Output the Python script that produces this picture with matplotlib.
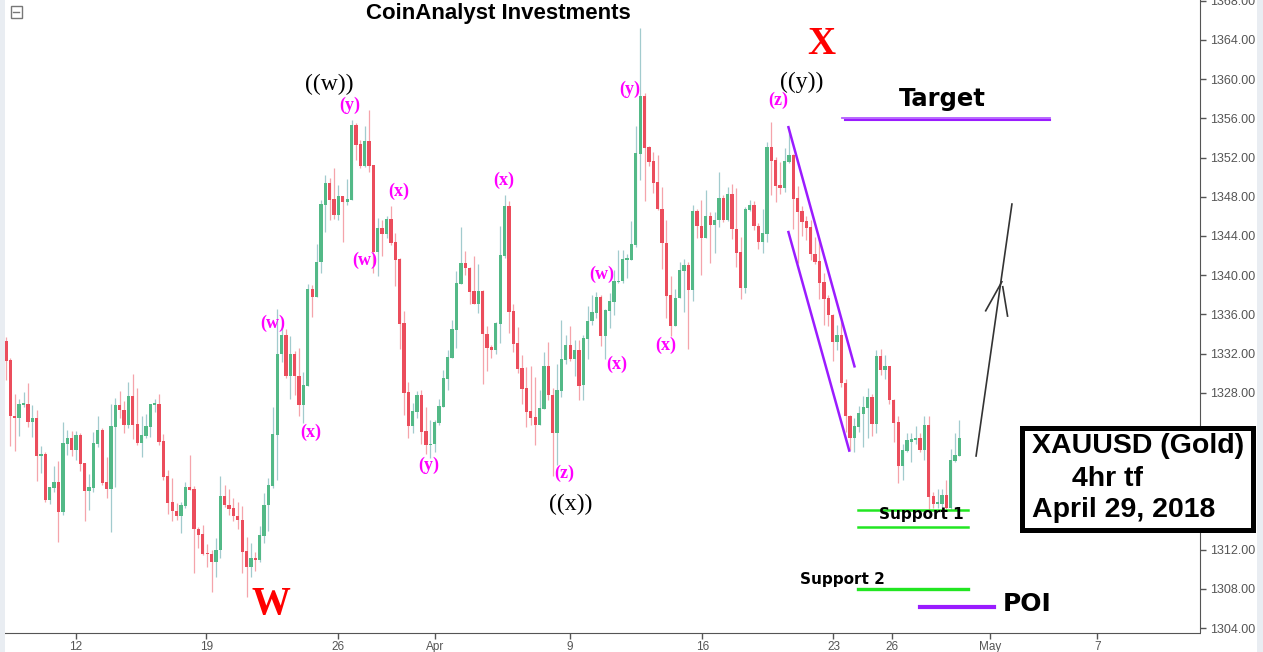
import matplotlib
matplotlib.use('Agg')
import matplotlib.pyplot as plt
from matplotlib.patches import Rectangle
from matplotlib.ticker import FormatStrFormatter
import numpy as np

plt.rcParams['font.family'] = 'Liberation Sans'

# XAUUSD 4h bars, 8 Mar - 27 Apr 2018
opens = [
    1333.3, 1331.3, 1325.6, 1325.4, 1326.8, 1326.9, 1325.0, 1325.4, 1321.6, 1321.8,
    1317.1, 1318.3, 1318.9, 1315.8, 1322.8, 1323.4, 1322.2, 1323.7, 1320.8, 1318.0,
    1318.3, 1322.8, 1324.2, 1318.9, 1318.2, 1324.5, 1326.8, 1326.2, 1324.7, 1327.7,
    1324.8, 1322.9, 1323.6, 1324.5, 1326.8, 1326.9, 1323.1, 1319.5, 1316.9, 1315.9,
    1315.4, 1316.4, 1318.4, 1318.2, 1314.1, 1313.6, 1311.6, 1311.6, 1310.7, 1312.0,
    1317.5, 1316.6, 1316.2, 1315.4, 1315.0, 1311.9, 1310.2, 1311.1, 1310.9, 1313.4,
    1316.5, 1318.5, 1323.7, 1332.0, 1333.9, 1329.7, 1332.0, 1329.7, 1326.8, 1328.7,
    1338.6, 1337.8, 1341.3, 1347.2, 1349.4, 1347.8, 1346.1, 1348.1, 1347.5, 1347.7,
    1355.3, 1353.4, 1351.1, 1353.7, 1351.2, 1342.4, 1344.8, 1344.2, 1345.7, 1343.4,
    1341.7, 1335.1, 1328.1, 1324.6, 1326.0, 1327.8, 1324.1, 1322.7, 1322.8, 1324.9,
    1326.6, 1329.4, 1331.6, 1334.4, 1339.1, 1341.2, 1340.7, 1338.4, 1337.1, 1338.4,
    1334.0, 1332.7, 1332.4, 1335.0, 1342.0, 1347.1, 1336.3, 1333.1, 1330.5, 1328.5,
    1326.1, 1325.5, 1324.7, 1326.3, 1330.7, 1327.8, 1323.9, 1328.2, 1331.3, 1332.9,
    1331.4, 1332.4, 1328.8, 1333.5, 1335.3, 1336.1, 1337.8, 1333.8, 1336.3, 1337.3,
    1339.3, 1339.4, 1341.6, 1341.6, 1343.1, 1352.4, 1358.3, 1353.1, 1351.7, 1349.5,
    1346.8, 1343.3, 1338.0, 1334.8, 1337.7, 1340.4, 1341.0, 1338.5, 1346.6, 1345.0,
    1343.8, 1346.0, 1345.1, 1345.6, 1347.9, 1345.6, 1348.3, 1344.7, 1342.4, 1338.7,
    1346.7, 1347.2, 1345.0, 1343.4, 1344.2, 1353.1, 1351.8, 1349.2, 1348.9, 1351.6,
    1352.3, 1347.9, 1346.5, 1345.5, 1344.9, 1342.2, 1341.4, 1339.3, 1337.7, 1335.9,
    1333.2, 1333.9, 1329.0, 1325.6, 1323.4, 1324.5, 1325.8, 1326.4, 1327.6, 1324.8,
    1331.8, 1330.3, 1330.7, 1327.3, 1325.0, 1320.5, 1322.1, 1323.0, 1323.2, 1323.4,
    1322.2, 1324.7, 1317.5, 1316.7, 1316.7, 1317.6, 1316.2, 1321.0, 1321.6,
]
highs = [
    1333.7, 1331.6, 1327.9, 1327.4, 1328.1, 1329.0, 1326.8, 1326.2, 1322.6, 1322.0,
    1318.4, 1320.5, 1321.0, 1325.0, 1324.2, 1324.1, 1324.1, 1323.9, 1320.8, 1319.7,
    1324.0, 1325.6, 1324.4, 1321.4, 1326.9, 1327.5, 1328.2, 1327.2, 1329.1, 1329.9,
    1328.5, 1325.6, 1325.8, 1326.9, 1327.4, 1327.9, 1323.8, 1320.1, 1319.3, 1316.8,
    1316.9, 1318.9, 1321.7, 1318.5, 1314.3, 1314.5, 1312.6, 1312.0, 1313.2, 1319.5,
    1318.6, 1318.2, 1317.3, 1316.9, 1316.4, 1313.3, 1312.7, 1311.8, 1314.4, 1317.8,
    1319.3, 1326.6, 1336.6, 1334.6, 1334.5, 1333.8, 1332.3, 1332.6, 1330.1, 1339.1,
    1339.0, 1343.2, 1347.7, 1350.2, 1349.9, 1350.9, 1349.2, 1348.1, 1349.8, 1355.8,
    1355.5, 1353.8, 1355.2, 1356.9, 1351.2, 1345.8, 1345.6, 1346.0, 1347.1, 1344.3,
    1341.8, 1336.3, 1329.1, 1327.0, 1328.2, 1328.3, 1326.6, 1325.2, 1325.2, 1327.4,
    1330.3, 1332.4, 1335.4, 1340.4, 1344.9, 1342.5, 1340.8, 1342.0, 1341.1, 1338.5,
    1334.8, 1332.9, 1335.2, 1345.0, 1348.2, 1347.6, 1337.1, 1334.7, 1331.9, 1330.6,
    1330.7, 1329.6, 1328.3, 1332.2, 1333.2, 1328.5, 1330.9, 1335.4, 1333.9, 1334.8,
    1333.4, 1333.4, 1333.9, 1336.9, 1338.0, 1338.3, 1338.0, 1336.6, 1338.2, 1340.5,
    1342.6, 1342.6, 1342.2, 1345.5, 1355.2, 1365.2, 1358.6, 1353.2, 1352.6, 1352.3,
    1349.0, 1345.6, 1339.9, 1338.6, 1341.3, 1341.7, 1341.3, 1347.2, 1346.8, 1347.7,
    1348.7, 1346.4, 1346.4, 1350.5, 1348.2, 1349.0, 1349.3, 1348.9, 1343.9, 1347.0,
    1347.7, 1347.6, 1345.3, 1346.8, 1353.6, 1355.6, 1352.1, 1351.5, 1353.0, 1354.8,
    1352.4, 1349.1, 1347.1, 1346.0, 1345.6, 1343.9, 1343.7, 1340.2, 1338.0, 1336.0,
    1334.9, 1335.4, 1329.4, 1325.7, 1325.4, 1326.7, 1327.7, 1328.5, 1327.9, 1332.4,
    1332.5, 1331.9, 1330.7, 1327.4, 1325.6, 1322.8, 1323.9, 1323.9, 1324.6, 1323.9,
    1325.6, 1325.6, 1317.9, 1318.2, 1318.2, 1319.1, 1322.3, 1323.9, 1325.2,
]
lows = [
    1329.3, 1322.6, 1322.1, 1323.6, 1326.6, 1324.5, 1323.5, 1319.0, 1319.8, 1316.9,
    1316.7, 1317.9, 1312.8, 1315.5, 1321.7, 1321.6, 1321.1, 1320.0, 1314.9, 1316.0,
    1317.9, 1322.5, 1318.6, 1317.3, 1313.8, 1318.4, 1325.4, 1323.9, 1324.4, 1323.3,
    1322.7, 1321.4, 1323.4, 1323.5, 1326.0, 1322.7, 1319.1, 1315.6, 1314.9, 1315.0,
    1313.7, 1316.2, 1318.1, 1309.6, 1312.2, 1311.4, 1310.2, 1307.7, 1309.2, 1311.1,
    1316.3, 1315.5, 1314.9, 1314.1, 1309.6, 1307.2, 1309.2, 1309.8, 1310.7, 1312.7,
    1313.9, 1318.3, 1319.1, 1331.1, 1329.5, 1327.4, 1327.8, 1325.6, 1324.9, 1328.7,
    1335.7, 1337.8, 1340.2, 1344.4, 1345.6, 1345.7, 1345.6, 1343.4, 1347.2, 1347.7,
    1351.8, 1350.9, 1351.0, 1350.5, 1340.2, 1339.9, 1342.0, 1343.8, 1343.1, 1338.9,
    1332.5, 1325.7, 1323.4, 1323.9, 1325.4, 1322.8, 1321.8, 1321.3, 1322.0, 1324.7,
    1326.5, 1328.3, 1331.5, 1332.6, 1339.1, 1340.0, 1337.1, 1337.1, 1336.1, 1328.9,
    1330.2, 1331.5, 1332.0, 1333.1, 1341.8, 1334.1, 1332.2, 1330.0, 1326.9, 1324.5,
    1324.7, 1322.7, 1324.7, 1326.3, 1327.3, 1319.5, 1320.6, 1327.6, 1330.9, 1331.2,
    1329.7, 1327.3, 1327.3, 1331.4, 1334.9, 1335.6, 1332.8, 1331.4, 1334.6, 1335.9,
    1339.2, 1339.2, 1339.7, 1341.6, 1342.9, 1349.7, 1347.6, 1351.1, 1348.4, 1346.7,
    1340.6, 1335.6, 1333.8, 1334.8, 1337.7, 1336.2, 1332.5, 1337.4, 1343.8, 1340.0,
    1343.8, 1341.2, 1342.3, 1344.9, 1345.4, 1345.5, 1343.7, 1340.8, 1337.6, 1338.2,
    1346.5, 1344.6, 1342.7, 1342.3, 1343.4, 1348.2, 1347.5, 1348.3, 1348.5, 1351.4,
    1344.7, 1341.2, 1344.0, 1343.6, 1341.6, 1341.1, 1337.6, 1334.9, 1334.8, 1331.2,
    1332.4, 1328.6, 1324.0, 1322.2, 1322.0, 1324.0, 1322.5, 1323.4, 1323.6, 1323.9,
    1329.8, 1329.4, 1326.9, 1323.0, 1318.8, 1319.1, 1322.0, 1320.9, 1322.8, 1322.0,
    1321.1, 1316.0, 1316.2, 1316.2, 1316.0, 1315.9, 1316.0, 1320.9, 1321.5,
]
closes = [
    1331.2, 1325.6, 1325.4, 1326.9, 1326.9, 1325.0, 1325.4, 1321.6, 1321.8, 1317.1,
    1318.4, 1318.9, 1315.8, 1322.9, 1323.4, 1322.2, 1323.7, 1320.7, 1318.0, 1318.4,
    1322.9, 1324.2, 1318.8, 1318.2, 1324.6, 1326.8, 1326.2, 1324.7, 1327.7, 1324.7,
    1322.9, 1323.7, 1324.6, 1326.9, 1326.9, 1323.0, 1319.4, 1316.8, 1315.9, 1315.4,
    1316.5, 1318.4, 1318.1, 1314.1, 1313.5, 1311.5, 1311.5, 1310.7, 1312.0, 1317.5,
    1316.6, 1316.1, 1315.4, 1315.0, 1311.8, 1310.2, 1311.1, 1310.9, 1313.5, 1316.6,
    1318.6, 1323.8, 1332.0, 1333.9, 1329.7, 1332.0, 1329.7, 1326.8, 1328.8, 1338.6,
    1337.8, 1341.3, 1347.3, 1349.4, 1347.7, 1346.1, 1348.1, 1347.5, 1347.8, 1355.3,
    1353.3, 1351.1, 1353.7, 1351.1, 1342.4, 1344.8, 1344.2, 1345.7, 1343.3, 1341.6,
    1335.0, 1328.0, 1324.6, 1326.1, 1327.8, 1324.0, 1322.7, 1322.8, 1325.0, 1326.7,
    1329.5, 1331.7, 1334.5, 1339.2, 1341.2, 1340.7, 1338.3, 1337.1, 1338.4, 1334.0,
    1332.6, 1332.4, 1335.1, 1342.1, 1347.1, 1336.2, 1333.0, 1330.4, 1328.4, 1326.0,
    1325.4, 1324.7, 1326.4, 1330.7, 1327.8, 1323.9, 1328.3, 1331.4, 1332.9, 1331.4,
    1332.4, 1328.7, 1333.6, 1335.3, 1336.2, 1337.8, 1333.8, 1336.4, 1337.4, 1339.4,
    1339.4, 1341.7, 1341.7, 1343.2, 1352.5, 1358.3, 1353.0, 1351.6, 1349.4, 1346.8,
    1343.3, 1337.9, 1334.8, 1337.7, 1340.5, 1341.0, 1338.5, 1346.6, 1345.0, 1343.8,
    1346.0, 1345.1, 1345.6, 1347.9, 1345.6, 1348.3, 1344.7, 1342.3, 1338.7, 1346.8,
    1347.2, 1345.0, 1343.4, 1344.3, 1353.1, 1351.7, 1349.1, 1348.9, 1351.7, 1352.3,
    1347.8, 1346.4, 1345.4, 1344.8, 1342.2, 1341.3, 1339.2, 1337.6, 1335.9, 1333.2,
    1333.9, 1329.0, 1325.6, 1323.4, 1324.6, 1325.9, 1326.5, 1327.6, 1324.8, 1331.8,
    1330.3, 1330.7, 1327.3, 1324.9, 1320.5, 1322.2, 1323.2, 1323.3, 1323.4, 1322.2,
    1324.7, 1317.4, 1316.7, 1316.9, 1317.6, 1316.2, 1321.1, 1321.7, 1323.4,
]

# date axis (tick positions in bar units)
date_labels = ['12', '19', '26', 'Apr', '9', '16', '23', '26', 'May', '7']
date_pos = [15.9, 45.8, 75.9, 98.0, 129.0, 159.2, 189.2, 202.6, 225.0, 249.5]
price_ticks = list(range(1304, 1369, 4))

# Elliott wave labels: (text, bar, price)
minor_waves = [('(y)', 78.7, 1357.3), ('(x)', 89.7, 1348.6), ('(w)', 82.1, 1341.5),
               ('(w)', 61.1, 1335.1), ('(x)', 69.7, 1324.0), ('(y)', 96.6, 1320.6),
               ('(x)', 113.7, 1349.7), ('(z)', 127.6, 1319.8), ('(w)', 136.1, 1340.1),
               ('(x)', 139.7, 1330.9), ('(y)', 142.7, 1359.0), ('(x)', 150.9, 1332.8),
               ('(z)', 176.5, 1357.8)]
major_waves = [('((w))', 73.9, 1359.5), ('((x))', 129.0, 1316.6), ('((y))', 182.0, 1359.7)]
primary_waves = [('W', 60.5, 1306.4), ('X', 186.5, 1363.5)]

# key levels
target_level = 1356.0
support1_levels = [1316.0, 1314.35]
support2_level = 1308.0
poi_level = 1306.1

UP, DOWN = '#53b987', '#eb4d5c'
WICK_UP, WICK_DOWN = '#a2cbce', '#f5a4ab'
PURPLE = '#9a1cff'
GREEN = '#22e622'

W, H = 1263, 652
fig = plt.figure(figsize=(W / 100, H / 100), dpi=100)
ax = fig.add_axes([5 / W, 19 / H, 1195 / W, 633 / H])

o = np.array(opens)
hi = np.array(highs)
lo = np.array(lows)
c = np.array(closes)
idx = np.arange(len(o))
up = c >= o

# candles
ax.vlines(idx[up], lo[up], hi[up], color=WICK_UP, lw=0.9, zorder=2)
ax.vlines(idx[~up], lo[~up], hi[~up], color=WICK_DOWN, lw=0.9, zorder=2)
ax.bar(idx, np.maximum(np.abs(c - o), 0.12), bottom=np.minimum(o, c), width=0.75,
       color=[UP if u else DOWN for u in up], lw=0, zorder=3)

ax.set_xlim(-0.23, 273.0)
ax.set_ylim(1303.49, 1368.08)

# axes styling
ax.yaxis.tick_right()
ax.set_yticks(price_ticks)
ax.yaxis.set_major_formatter(FormatStrFormatter('%.2f'))
ax.set_xticks(date_pos)
ax.set_xticklabels(date_labels)
ax.tick_params(colors='#555555', labelsize=9, length=4, width=1)
ax.tick_params(axis='y', pad=3)
ax.tick_params(axis='x', labelsize=8.5, pad=1.5)
for side in ('left', 'top'):
    ax.spines[side].set_visible(False)
for side in ('right', 'bottom'):
    ax.spines[side].set_color('#555555')

# wave labels
for txt, x, y in minor_waves:
    ax.text(x, y, txt, color='#ff00ff', fontsize=13, fontweight='bold',
            family='Liberation Serif', ha='center', va='center', zorder=5)
for txt, x, y in major_waves:
    ax.text(x, y, txt, color='black', fontsize=17,
            family='Liberation Serif', ha='center', va='center', zorder=5)
for txt, x, y in primary_waves:
    ax.text(x, y, txt, color='#ff0000', fontsize=28, fontweight='bold',
            family='Liberation Serif', ha='center', va='center', zorder=5)

# falling channel
ax.plot([178.9, 194.0], [1355.1, 1330.7], color=PURPLE, lw=1.8, zorder=4)
ax.plot([178.9, 192.8], [1344.4, 1322.1], color=PURPLE, lw=1.8, zorder=4)

# target
ax.plot([191.2, 238.7], [target_level + 0.05, target_level + 0.05], color='#b35cff', lw=1.3)
ax.plot([191.9, 238.7], [target_level - 0.2, target_level - 0.2], color=PURPLE, lw=1.5)
ax.text(214.0, 1358.0, 'Target', fontsize=17.5, fontweight='bold', family='DejaVu Sans',
        ha='center', va='center')

# supports and POI
for lvl in support1_levels:
    ax.plot([194.9, 219.9], [lvl, lvl], color=GREEN, lw=1.8, zorder=4)
ax.plot([194.9, 219.9], [support2_level, support2_level], color=GREEN, lw=2.4, zorder=4)
ax.plot([209.0, 225.8], [poi_level, poi_level], color=PURPLE, lw=3, zorder=4)
ax.text(209.2, 1315.6, 'Support 1', fontsize=11, fontweight='bold', family='DejaVu Sans',
        ha='center', va='center', zorder=6)
ax.text(191.2, 1309.0, 'Support 2', fontsize=11, fontweight='bold', family='DejaVu Sans',
        ha='center', va='center', zorder=6)
ax.text(228.0, 1306.5, 'POI', fontsize=18, fontweight='bold', family='DejaVu Sans',
        ha='left', va='center', zorder=6)

# projected move up
ax.plot([221.8, 230.0], [1321.55, 1347.26], color='#333333', lw=1.2)
ax.plot([224.0, 227.7], [1336.37, 1339.33], color='#333333', lw=1.2)
ax.plot([227.9, 229.0], [1338.82, 1335.83], color='#333333', lw=1.2)

# title
fig.text(498 / W, 1 - 14 / H, 'CoinAnalyst Investments', fontsize=16, fontweight='bold',
         ha='center', va='center')

# info box
fig.add_artist(Rectangle((1022 / W, 1 - 530 / H), 231 / W, 102 / H, transform=fig.transFigure,
                         facecolor='white', edgecolor='black', lw=3.6, zorder=10))
fig.text(1032 / W, 1 - 446 / H, 'XAUUSD (Gold)', fontsize=20.5, fontweight='bold',
         ha='left', va='center', zorder=11)
fig.text(1072 / W, 1 - 479 / H, '4hr tf', fontsize=20.5, fontweight='bold',
         ha='left', va='center', zorder=11)
fig.text(1032 / W, 1 - 510 / H, 'April 29, 2018', fontsize=20.5, fontweight='bold',
         ha='left', va='center', zorder=11)

# chart frame details
fig.add_artist(Rectangle((1201 / W, 0), 56 / W, 19 / H, transform=fig.transFigure,
                         facecolor='white', edgecolor='none', zorder=9))
for x0, y0, w, h in [(0, 0, 4.5, H), (1257, 0, 6, H)]:
    fig.add_artist(Rectangle((x0 / W, y0 / H), w / W, h / H, transform=fig.transFigure,
                             facecolor='#e9edf2', edgecolor='none', zorder=9))
fig.add_artist(Rectangle((10.5 / W, 1 - 17.5 / H), 11 / W, 11 / H, transform=fig.transFigure,
                         facecolor='white', edgecolor='#777777', lw=1, zorder=9))
fig.add_artist(plt.Line2D([13 / W, 19 / W], [1 - 12 / H, 1 - 12 / H], transform=fig.transFigure,
                          color='#777777', lw=1, zorder=10))

fig.savefig('out.png', dpi=100)
